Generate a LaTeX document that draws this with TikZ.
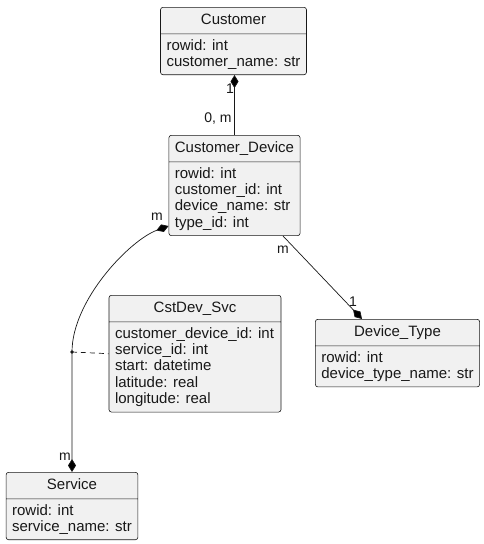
\documentclass[tikz,border=0pt]{standalone}
\usepackage{fontspec}
\setmainfont{Liberation Sans}
\usetikzlibrary{arrows.meta,shapes.multipart}
\definecolor{BoxFill}{HTML}{F1F1F1}
\definecolor{Ink}{HTML}{181818}
\tikzset{comp/.tip={Diamond[length=13pt,width=8pt]}}
\newcommand{\ttl}[1]{\rule[-4pt]{0pt}{16pt}#1}

\begin{document}
\begin{tikzpicture}[x=1pt,y=-1pt,
    every node/.style={font=\fontsize{14}{16}\selectfont,text=Ink},
    entity/.style={rectangle split,rectangle split parts=2,draw=Ink,fill=BoxFill,
      line width=0.6pt,rounded corners=2.5pt,rectangle split part align={center,left},
      align=left,anchor=north,inner xsep=6pt,inner ysep=5pt,
      font=\fontsize{15}{16.4}\selectfont},
    link/.style={draw=Ink,line width=0.7pt},
    card/.style={inner sep=0pt}]
  \useasboundingbox (0,0) rectangle (484,544);

  % tables
  \node[entity,minimum width=145pt] (cust) at (233.5,7)
    {\ttl{Customer}\nodepart{two}rowid: int\\customer\_name: str};
  \node[entity,minimum width=125pt] (cdev) at (234.5,135)
    {\ttl{Customer\_Device}\nodepart{two}rowid: int\\customer\_id: int\\device\_name: str\\type\_id: int};
  \node[entity,minimum width=172pt] (cds) at (195,295)
    {\ttl{CstDev\_Svc}\nodepart{two}customer\_device\_id: int\\service\_id: int\\start: datetime\\latitude: real\\longitude: real};
  \node[entity,minimum width=161pt] (dtype) at (397.5,319)
    {\ttl{Device\_Type}\nodepart{two}rowid: int\\device\_type\_name: str};
  \node[entity,minimum width=130pt] (svc) at (72,472)
    {\ttl{Service}\nodepart{two}rowid: int\\service\_name: str};

  % relations
  \draw[link,comp-] (cdev.north |- cust.south) -- (cdev.north);
  \draw[link,-comp] ([xshift=48.5pt]cdev.south) -- ([xshift=-35.5pt]dtype.north);
  \coordinate (assoc) at (72,352);
  \draw[link,comp-comp] ([yshift=10pt]cdev.south west)
    .. controls (130,240) and (72,300) .. (assoc) -- (svc.north);
  \fill[Ink] (assoc) circle (1.8);
  \draw[link,dash pattern=on 5pt off 4pt] (assoc) -- (cds.west);

  % cardinalities
  \node[card] (c1) at (230,89) {1};
  \node[card] (c0m) at (218,119) {0, m};
  \node[card] (cm1) at (157,217) {m};
  \node[card] (cm2) at (283,250) {m};
  \node[card] (c2) at (353,302) {1};
  \node[card] (cm3) at (65,457) {m};
\end{tikzpicture}
\end{document}
